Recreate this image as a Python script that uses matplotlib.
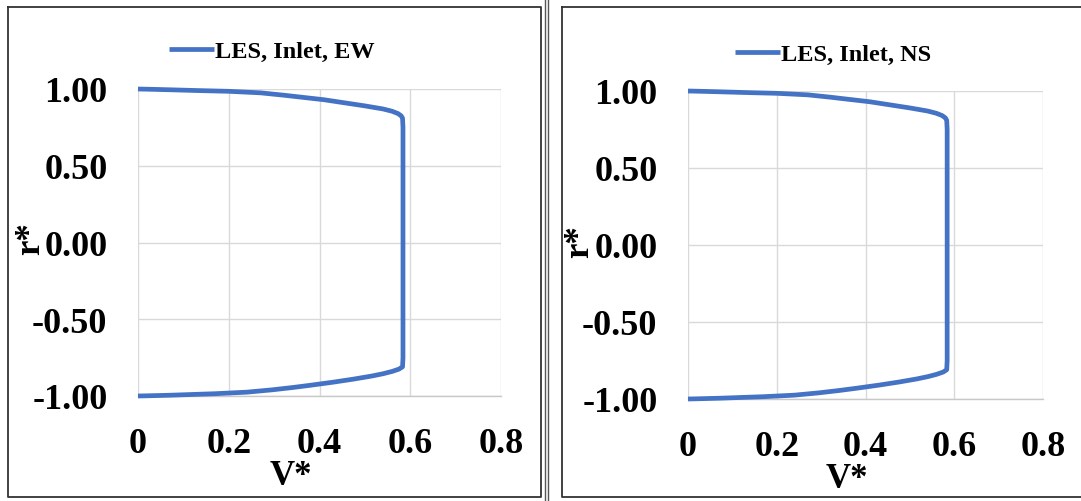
import matplotlib
matplotlib.use("Agg")
import matplotlib.pyplot as plt
from matplotlib.lines import Line2D

# Inlet velocity profiles: normalised radial position vs normalised velocity
r_star = [1.000, 0.998, 0.995, 0.990, 0.985, 0.975, 0.960, 0.945, 0.930, 0.910,
          0.890, 0.870, 0.855, 0.840, 0.825, 0.810, 0.750, 0.500, 0.250, 0.000,
          -0.250, -0.500, -0.750, -0.810, -0.825, -0.840, -0.855, -0.870, -0.890,
          -0.910, -0.930, -0.945, -0.960, -0.975, -0.985, -0.990, -0.995, -0.998, -1.000]
v_ew = [0.000, 0.030, 0.070, 0.130, 0.200, 0.270, 0.320, 0.365, 0.410, 0.455,
        0.500, 0.540, 0.560, 0.573, 0.580, 0.583, 0.584, 0.584, 0.584, 0.584,
        0.584, 0.584, 0.584, 0.583, 0.575, 0.560, 0.540, 0.515, 0.475,
        0.430, 0.380, 0.340, 0.295, 0.240, 0.170, 0.120, 0.070, 0.030, 0.000]
v_ns = [0.000, 0.030, 0.070, 0.130, 0.200, 0.270, 0.320, 0.365, 0.410, 0.455,
        0.500, 0.540, 0.560, 0.573, 0.580, 0.583, 0.584, 0.584, 0.584, 0.584,
        0.584, 0.584, 0.584, 0.583, 0.575, 0.560, 0.540, 0.515, 0.475,
        0.430, 0.380, 0.340, 0.295, 0.240, 0.170, 0.120, 0.070, 0.030, 0.000]

x_ticks = [0, 0.2, 0.4, 0.6, 0.8]
x_tick_labels = ["0", "0.2", "0.4", "0.6", "0.8"]
y_ticks = [-1.0, -0.5, 0.0, 0.5, 1.0]
y_tick_labels = ["-1.00", "-0.50", "0.00", "0.50", "1.00"]
series_labels = ["LES, Inlet, EW", "LES, Inlet, NS"]

W, H = 1081, 502
plt.rcParams["font.family"] = ["Liberation Serif", "DejaVu Serif"]
plt.rcParams["font.weight"] = "bold"

fig = plt.figure(figsize=(W / 100, H / 100), dpi=100)
fig.patch.set_facecolor("white")


def px_rect(x0, y0, x1, y1):
    return [x0 / W, 1 - y1 / H, (x1 - x0) / W, (y1 - y0) / H]


def fig_line(xs, ys, lw=1.2, color="#333333"):
    fig.add_artist(Line2D([x / W for x in xs], [1 - y / H for y in ys],
                          transform=fig.transFigure, color=color, lw=lw))


# panel frames and the separator
for x0, x1 in [(8, 541), (562, 1083)]:
    fig_line([x0, x1, x1, x0, x0], [8, 8, 498, 498, 8], lw=1.3)
fig_line([545, 545], [0, 502], lw=1.0, color="#555555")
fig_line([547.5, 547.5], [0, 502], lw=1.0, color="#555555")

panels = [
    dict(rect=(138, 90, 501, 397), v=v_ew, label=series_labels[0],
         leg=(272, 52), xlab=(0.421, -0.205), ylab=(-0.25, 0.515)),
    dict(rect=(688, 92, 1043, 400), v=v_ns, label=series_labels[1],
         leg=(833, 55), xlab=(0.448, -0.205), ylab=(-0.258, 0.515)),
]

for p in panels:
    ax = fig.add_axes(px_rect(*p["rect"]))
    ax.plot(p["v"], r_star, color="#4472C4", lw=3.4, label=p["label"],
            solid_capstyle="butt", solid_joinstyle="round", clip_on=False, zorder=3)
    ax.set_xlim(0, 0.8)
    ax.set_ylim(-1.0, 1.0)
    ax.set_xticks(x_ticks)
    ax.set_xticklabels(x_tick_labels)
    ax.set_yticks(y_ticks)
    ax.set_yticklabels(y_tick_labels)
    ax.tick_params(length=0, labelsize=26, pad=22)
    ax.tick_params(axis="y", pad=22)
    ax.grid(True, color="#D9D9D9", lw=1.0)
    ax.set_axisbelow(True)
    for side in ["top", "right", "left"]:
        ax.spines[side].set_visible(False)
    ax.spines["bottom"].set_color("#C8C8C8")
    ax.spines["bottom"].set_linewidth(1.0)
    ax.set_xlabel("V*", fontsize=25, fontweight="bold")
    ax.xaxis.set_label_coords(*p["xlab"])
    ax.set_ylabel("r*", fontsize=25, fontweight="bold")
    ax.yaxis.set_label_coords(*p["ylab"])
    lx, ly = p["leg"]
    leg = ax.legend(loc="center", bbox_to_anchor=(lx / W, 1 - ly / H),
                    bbox_transform=fig.transFigure, frameon=False,
                    prop=dict(size=17.5, weight="bold"), handlelength=1.85,
                    handletextpad=0.05, borderpad=0)
    for h in leg.get_lines():
        h.set_linewidth(3.4)

fig.savefig("out.png", dpi=100, facecolor="white")
